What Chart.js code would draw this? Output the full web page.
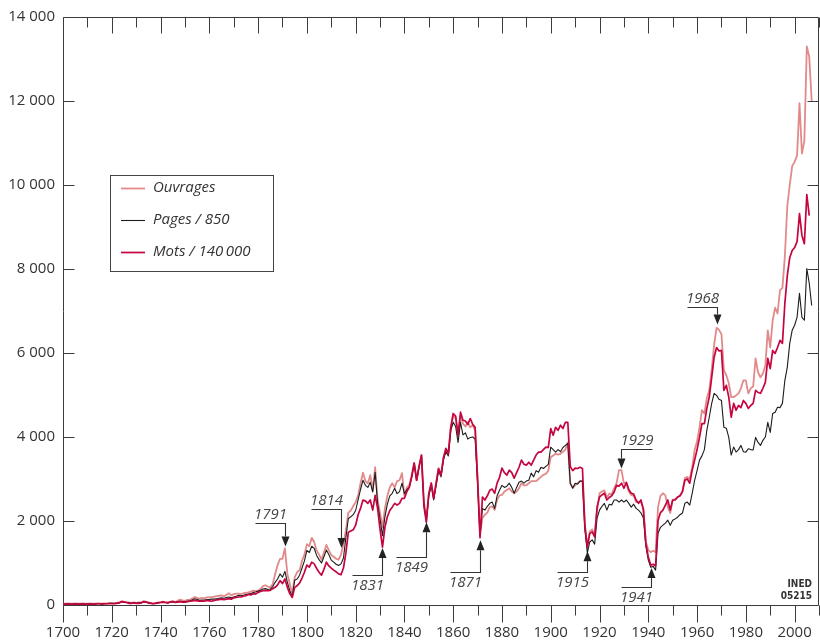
<!DOCTYPE html>
<html>
<head>
<meta charset="utf-8">
<script src="https://cdn.jsdelivr.net/npm/chart.js@4.4.0/dist/chart.umd.min.js"></script>
<style>
  html, body { margin: 0; padding: 0; background: #fff; }
</style>
</head>
<body>
<canvas id="chart" width="820" height="643"></canvas>
<script>
// Yearly series, one value per year starting in 1700
const firstYear = 1700;

const ouvrages = [
  30, 30, 40, 30, 30, 40, 30, 30, 40, 30,            // 1700
  30, 40, 30, 30, 40, 40, 30, 40, 40, 50,            // 1710
  50, 40, 50, 60, 90, 80, 70, 60, 50, 60,            // 1720
  50, 60, 60, 90, 80, 60, 50, 40, 50, 60,            // 1730
  70, 80, 70, 60, 80, 90, 70, 100, 130, 110,         // 1740
  100, 120, 130, 150, 190, 170, 150, 170, 160, 180,  // 1750
  180, 190, 200, 210, 220, 230, 210, 240, 280, 230,  // 1760
  260, 270, 270, 260, 280, 290, 300, 320, 340, 330,  // 1770
  340, 380, 450, 470, 440, 420, 500, 740, 950, 1100, // 1780
  1100, 1350, 740, 500, 270, 660, 780, 830, 1050, 1200,
  1450, 1400, 1600, 1500, 1300, 1200, 1080, 1250, 1430, 1300, // 1800
  1190, 1150, 1100, 1080, 1200, 1450, 1780, 2200, 2250, 2350,
  2450, 2600, 2900, 3150, 2950, 2900, 3090, 2730, 3280, 2500, // 1820
  2200, 1850, 2300, 2600, 2800, 2900, 2800, 2950, 2970, 3140,
  2600, 2800, 2850, 3100, 3380, 2970, 3300, 3570, 2450, 2100, // 1840
  2650, 2900, 2540, 2900, 3250, 3090, 3500, 3700, 3600, 4200,
  4500, 4450, 4000, 4500, 4320, 4250, 4350, 4230, 4280, 4150, // 1860
  3000, 1700, 2070, 2150, 2200, 2330, 2350, 2260, 2500, 2610,
  2620, 2700, 2740, 2780, 2700, 2660, 2700, 2780, 2900, 2850, // 1880
  2850, 2900, 2950, 2950, 2950, 3000, 3050, 3100, 3120, 3200,
  3520, 3560, 3600, 3580, 3600, 3650, 3700, 3870, 2900, 2790, // 1900
  2850, 2900, 2950, 2950, 1850, 1400, 1750, 1800, 1650, 2250,
  2660, 2700, 2730, 2560, 2650, 2640, 2780, 2900, 3210, 3210, // 1920
  2900, 2900, 2700, 2620, 2600, 2450, 2450, 2450, 2300, 1500,
  1310, 1260, 1290, 1260, 2330, 2600, 2660, 2610, 2330, 2190, // 1940
  2500, 2520, 2560, 2600, 2700, 3020, 3050, 3000, 3280, 3690,
  3900, 4230, 4640, 4560, 4920, 5110, 5600, 6200, 6600, 6550, // 1960
  6450, 5590, 5470, 5280, 4950, 4950, 4990, 5040, 5160, 5350,
  5350, 5040, 5160, 5200, 5870, 5540, 5420, 5510, 5700, 6540, // 1980
  6130, 6770, 7080, 6940, 7490, 7550, 8300, 9500, 10000, 10450,
  10550, 10700, 11950, 10750, 11050, 13300, 13050, 12000      // 2000
];

const pages = [
  20, 20, 30, 20, 20, 30, 20, 20, 30, 20,
  20, 30, 20, 20, 30, 30, 20, 30, 30, 40,
  40, 40, 40, 50, 80, 70, 60, 50, 40, 50,
  40, 50, 50, 80, 70, 50, 40, 30, 40, 50,
  60, 70, 60, 50, 70, 80, 60, 80, 90, 80,
  80, 90, 100, 120, 150, 130, 110, 120, 120, 130,
  130, 140, 140, 150, 160, 170, 160, 180, 190, 170,
  190, 210, 230, 220, 230, 250, 260, 270, 300, 310,
  330, 350, 380, 390, 370, 380, 440, 540, 620, 740,
  660, 800, 540, 340, 200, 590, 620, 710, 880, 1050,
  1300, 1250, 1400, 1350, 1180, 1080, 1000, 1150, 1310, 1200,
  1070, 1020, 970, 940, 980, 1120, 1600, 2060, 2100, 2150,
  2250, 2500, 2750, 2970, 2850, 2800, 2920, 2690, 3160, 2420,
  2050, 1650, 2100, 2400, 2600, 2660, 2780, 2650, 2700, 2900,
  2650, 2750, 2800, 3050, 3380, 2970, 3280, 3550, 2400, 2000,
  2600, 2850, 2500, 2850, 3200, 3050, 3450, 3650, 3550, 4150,
  4350, 4250, 3870, 4350, 4050, 4100, 3950, 3990, 4000, 3950,
  2900, 1650, 2300, 2260, 2350, 2420, 2450, 2300, 2600, 2730,
  2850, 2800, 2830, 2900, 2800, 2660, 2800, 2920, 2950, 2900,
  2950, 2970, 3140, 3050, 3200, 3160, 3280, 3250, 3300, 3350,
  3760, 3700, 3640, 3700, 3650, 3750, 3800, 3850, 2900, 2780,
  2900, 2880, 2950, 2950, 1800, 1240, 1500, 1550, 1450, 2070,
  2260, 2350, 2420, 2260, 2400, 2380, 2500, 2500, 2450, 2500,
  2450, 2500, 2420, 2330, 2400, 2300, 2260, 2190, 2070, 1400,
  1070, 900, 920, 830, 1710, 1850, 1900, 1950, 2020, 1900,
  2020, 2050, 2090, 2150, 2190, 2420, 2450, 2380, 2660, 2970,
  3200, 3450, 3550, 3700, 4160, 4470, 4800, 5040, 4990, 4900,
  4870, 4230, 4210, 3990, 3570, 3760, 3640, 3700, 3800, 3650,
  3640, 3720, 3700, 3690, 3990, 3870, 3800, 3920, 4000, 4350,
  4110, 4560, 4590, 4710, 4700, 4800, 5350, 5660, 6230, 6540,
  6660, 6850, 7420, 6850, 6780, 8010, 7660, 7130
];

const mots = [
  20, 20, 20, 20, 20, 20, 20, 30, 20, 20,
  20, 20, 20, 20, 30, 30, 20, 30, 30, 30,
  30, 30, 40, 50, 80, 70, 60, 40, 40, 50,
  40, 40, 50, 80, 70, 50, 40, 30, 40, 50,
  60, 70, 60, 50, 70, 80, 60, 70, 80, 70,
  70, 80, 90, 100, 110, 100, 90, 100, 90, 110,
  100, 90, 110, 120, 130, 140, 130, 140, 150, 140,
  170, 180, 190, 190, 210, 220, 250, 240, 270, 260,
  300, 320, 340, 350, 340, 350, 390, 420, 480, 580,
  510, 620, 420, 270, 180, 420, 460, 520, 640, 780,
  950, 900, 1020, 980, 870, 780, 710, 850, 1020, 930,
  880, 830, 790, 740, 720, 880, 1240, 1730, 1760, 1790,
  1900, 2150, 2300, 2500, 2480, 2420, 2500, 2260, 2610, 2300,
  1800, 1380, 1850, 2100, 2250, 2330, 2420, 2380, 2420, 2540,
  2540, 2700, 2800, 3050, 3380, 2970, 3300, 3570, 2350, 1970,
  2650, 2900, 2540, 2900, 3250, 3090, 3500, 3730, 3600, 4230,
  4560, 4500, 4050, 4590, 4400, 4380, 4300, 4440, 4300, 4230,
  3000, 1600, 2570, 2500, 2600, 2730, 2760, 2660, 2900, 3040,
  3260, 3150, 3090, 3210, 3150, 3020, 3150, 3280, 3450, 3350,
  3330, 3400, 3330, 3450, 3570, 3640, 3640, 3700, 3760, 3750,
  4200, 4040, 4230, 4160, 4280, 4200, 4350, 4350, 3300, 3200,
  3260, 3250, 3280, 3250, 1900, 1380, 1700, 1740, 1620, 2330,
  2570, 2620, 2660, 2500, 2560, 2600, 2690, 2850, 2830, 2900,
  2780, 2920, 2750, 2660, 2640, 2500, 2420, 2500, 2260, 1470,
  1140, 950, 970, 930, 2020, 2200, 2260, 2380, 2500, 2260,
  2500, 2500, 2570, 2600, 2700, 2970, 3000, 2900, 3210, 3450,
  3700, 3990, 4320, 4320, 4680, 4950, 5420, 5900, 6130, 6050,
  6060, 5110, 5230, 4950, 4470, 4800, 4640, 4750, 4700, 4870,
  4800, 4680, 4750, 4800, 5110, 5060, 5040, 5160, 5300, 5870,
  5630, 6060, 5990, 6130, 6300, 6230, 7180, 7840, 8270, 8440,
  8510, 8650, 9320, 8800, 8600, 9770, 9270
];

const seriesLabels = ['Ouvrages', 'Pages / 850', 'Mots / 140\u2009000'];
const yearLabels = [1700, 1720, 1740, 1760, 1780, 1800, 1820, 1840, 1860, 1880, 1900, 1920, 1940, 1960, 1980, 2000];

// Events pointed at on the curves
const eventYears = [1791, 1814, 1831, 1849, 1871, 1915, 1929, 1941, 1968];
const eventTips  = [1390, 1360, 1360, 1970, 1540, 1280, 3250, 880, 6680];
// arrow direction, leader length (px) and side the label sits on
const eventLayout = [
  { dir: 'down', leg: 24, side: 'left' },
  { dir: 'down', leg: 39, side: 'left' },
  { dir: 'up',   leg: 27, side: 'left' },
  { dir: 'up',   leg: 35, side: 'left' },
  { dir: 'up',   leg: 32, side: 'left' },
  { dir: 'up',   leg: 21, side: 'left' },
  { dir: 'down', leg: 19, side: 'right' },
  { dir: 'up',   leg: 19, side: 'left' },
  { dir: 'down', leg: 17, side: 'left' }
];

const FONT = '"Open Sans", "Noto Sans", sans-serif';
const INK = '#333333';

const toPoints = arr => arr.map((v, i) => ({ x: firstYear + i, y: v }));
const fmtThousands = v => String(v).replace(/\B(?=(\d{3})+(?!\d))/g, ' ');

// Box around the plot with inward/outward tick marks on all four sides
const framePlugin = {
  id: 'frame',
  beforeDatasetsDraw(chart) {
    const { ctx, chartArea: a, scales: { x, y } } = chart;
    const L = Math.round(a.left) + 0.5, R = Math.round(a.right) - 0.5;
    const T = Math.round(a.top) + 0.5, B = Math.round(a.bottom) + 0.5;
    ctx.save();
    ctx.strokeStyle = '#3c3c3c';
    ctx.lineWidth = 1;
    ctx.beginPath();
    ctx.rect(L, T, R - L, B - T);
    for (let yr = 1700; yr <= 2010; yr += 10) {
      const px = Math.round(x.getPixelForValue(yr)) + 0.5;
      const major = (yr - 1700) % 20 === 0;
      ctx.moveTo(px, B); ctx.lineTo(px, B + (major ? 17 : 10));
      ctx.moveTo(px, T); ctx.lineTo(px, T + (major ? 16 : 10));
    }
    for (let v = 2000; v < 14000; v += 2000) {
      const py = Math.round(y.getPixelForValue(v)) + 0.5;
      ctx.moveTo(L, py); ctx.lineTo(L + 11, py);
      ctx.moveTo(R, py); ctx.lineTo(R - 11, py);
    }
    ctx.stroke();
    ctx.restore();
  }
};

// Year markers with arrows and underlined labels, plus legend box and code
const overlayPlugin = {
  id: 'overlay',
  afterDraw(chart) {
    const { ctx, scales: { x, y } } = chart;
    ctx.save();
    ctx.strokeStyle = '#333';
    ctx.fillStyle = '#333';
    ctx.lineWidth = 1.1;

    eventYears.forEach((yr, i) => {
      const lay = eventLayout[i];
      const px = Math.round(x.getPixelForValue(yr)) + 0.5;
      const py = y.getPixelForValue(eventTips[i]);
      const s = lay.dir === 'down' ? -1 : 1;
      const ey = Math.round(py + s * lay.leg) + 0.5;
      const head = 10;
      const x2 = lay.side === 'left' ? px - 30 : px + 31;
      ctx.strokeStyle = '#333';
      ctx.beginPath();
      ctx.moveTo(x2, ey);
      ctx.lineTo(px, ey);
      ctx.lineTo(px, py + s * head);
      ctx.stroke();
      ctx.fillStyle = '#222';
      ctx.beginPath();
      ctx.moveTo(px, py);
      ctx.lineTo(px - 4, py + s * head);
      ctx.lineTo(px + 4, py + s * head);
      ctx.closePath();
      ctx.fill();

      ctx.font = 'italic 15px ' + FONT;
      ctx.fillStyle = '#444';
      ctx.textAlign = 'center';
      ctx.textBaseline = 'middle';
      const tx = (x2 + px) / 2;
      const ty = lay.dir === 'down' ? ey - 9 : ey + 10;
      ctx.fillText(String(yr), tx, ty);
    });

    // legend
    const box = { left: 110.5, top: 175.5, right: 273.5, bottom: 271.5 };
    ctx.strokeStyle = '#444';
    ctx.lineWidth = 1;
    ctx.strokeRect(box.left, box.top, box.right - box.left, box.bottom - box.top);
    const rows = [188, 220, 252];
    chart.data.datasets.forEach((ds, i) => {
      ctx.strokeStyle = ds.borderColor;
      ctx.lineWidth = ds.borderWidth;
      ctx.beginPath();
      ctx.moveTo(121, rows[i] + 0.5);
      ctx.lineTo(145, rows[i] + 0.5);
      ctx.stroke();
      ctx.fillStyle = INK;
      ctx.font = 'italic 15px ' + FONT;
      ctx.textAlign = 'left';
      ctx.textBaseline = 'middle';
      ctx.fillText(ds.label, 153, rows[i]);
    });

    ctx.fillStyle = '#333';
    ctx.font = 'bold 10px "DejaVu Sans Condensed", "Liberation Sans Narrow", "DejaVu Sans", sans-serif';
    ctx.textAlign = 'right';
    ctx.textBaseline = 'middle';
    ctx.fillText('INED', 812, 584);
    ctx.fillText('05215', 812, 596);
    ctx.restore();
  }
};

new Chart(document.getElementById('chart'), {
  type: 'line',
  data: {
    datasets: [
      { label: seriesLabels[0], data: toPoints(ouvrages), borderColor: '#e28a8a', borderWidth: 1.8, order: 3 },
      { label: seriesLabels[1], data: toPoints(pages), borderColor: '#1c1c1c', borderWidth: 1.1, order: 2 },
      { label: seriesLabels[2], data: toPoints(mots), borderColor: '#c4053f', borderWidth: 1.7, order: 1 }
    ]
  },
  options: {
    responsive: false,
    animation: false,
    devicePixelRatio: 1,
    layout: { padding: { top: 16, right: 1, bottom: 0, left: 0 } },
    elements: {
      point: { radius: 0, hoverRadius: 0 },
      line: { tension: 0, borderJoinStyle: 'round', fill: false }
    },
    plugins: {
      legend: { display: false },
      tooltip: { enabled: false }
    },
    scales: {
      x: {
        type: 'linear',
        min: 1700,
        max: 2010,
        grid: { display: false, drawTicks: false },
        border: { display: false },
        afterBuildTicks: s => { s.ticks = yearLabels.map(v => ({ value: v })); },
        afterFit: s => { s.height = 38; s.paddingLeft = 0; s.paddingRight = 0; },
        ticks: {
          autoSkip: false,
          maxRotation: 0,
          padding: 19,
          color: INK,
          font: { family: FONT, size: 15 },
          callback: v => String(v)
        }
      },
      y: {
        min: 0,
        max: 14000,
        grid: { display: false, drawTicks: false },
        border: { display: false },
        afterFit: s => { s.width = 63; },
        ticks: {
          stepSize: 2000,
          padding: 8,
          color: INK,
          font: { family: FONT, size: 15 },
          callback: v => fmtThousands(v)
        }
      }
    }
  },
  plugins: [framePlugin, overlayPlugin]
});
</script>
</body>
</html>
